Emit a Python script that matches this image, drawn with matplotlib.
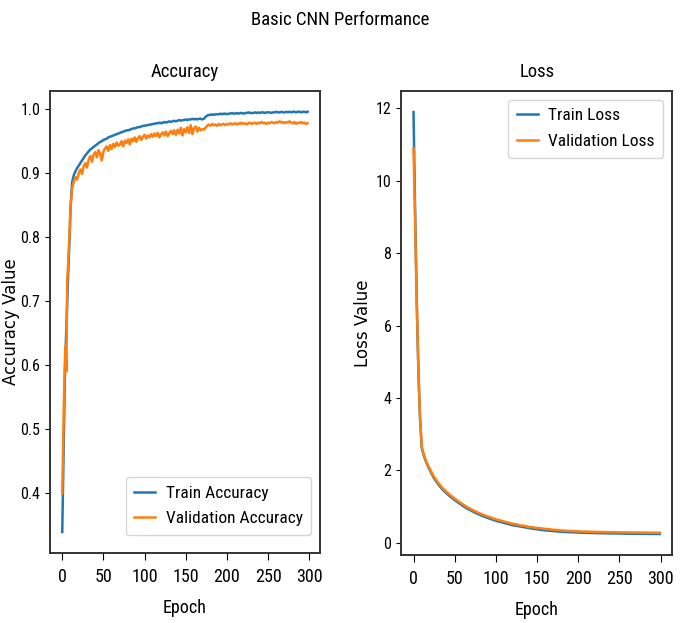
import matplotlib
matplotlib.use('Agg')
import matplotlib.pyplot as plt
import numpy as np

# epochs for the accuracy curves: every epoch up to 10, then every 2nd
acc_epochs = np.concatenate([np.arange(0, 11), np.arange(12, 300, 2)])

train_acc = [
    0.34, 0.42, 0.50, 0.57, 0.62, 0.66, 0.70, 0.735, 0.77, 0.80, 0.845,
    0.885, 0.896, 0.902, 0.907, 0.911, 0.915, 0.919, 0.923, 0.927, 0.930,
    0.933, 0.936, 0.938, 0.940, 0.942, 0.944, 0.946, 0.948, 0.949, 0.951,
    0.952, 0.953, 0.955, 0.956, 0.957, 0.958, 0.959, 0.960, 0.961, 0.962,
    0.963, 0.964, 0.965, 0.966, 0.966, 0.967, 0.968, 0.969, 0.969, 0.970,
    0.971, 0.971, 0.972, 0.973, 0.973, 0.974, 0.974, 0.975, 0.975, 0.976,
    0.976, 0.977, 0.977, 0.978, 0.977, 0.978, 0.979, 0.978, 0.979, 0.980,
    0.979, 0.980, 0.981, 0.980, 0.981, 0.982, 0.981, 0.982, 0.982, 0.983,
    0.982, 0.983, 0.983, 0.984, 0.983, 0.984, 0.983, 0.984, 0.984, 0.983,
    0.984, 0.987, 0.989, 0.990, 0.990, 0.991, 0.990, 0.991, 0.991, 0.991,
    0.992, 0.991, 0.992, 0.992, 0.991, 0.992, 0.992, 0.993, 0.992, 0.992,
    0.993, 0.992, 0.993, 0.993, 0.992, 0.993, 0.993, 0.994, 0.993, 0.993,
    0.993, 0.994, 0.993, 0.994, 0.993, 0.994, 0.994, 0.993, 0.994, 0.994,
    0.994, 0.993, 0.994, 0.994, 0.995, 0.994, 0.994, 0.995, 0.994, 0.994,
    0.995, 0.994, 0.995, 0.994, 0.995, 0.995, 0.994, 0.995, 0.995, 0.994,
    0.995, 0.995, 0.994, 0.995,
]

val_acc = [
    0.40, 0.47, 0.54, 0.60, 0.63, 0.59, 0.73, 0.755, 0.78, 0.81, 0.845,
    0.876, 0.886, 0.893, 0.889, 0.899, 0.905, 0.898, 0.910, 0.915, 0.908,
    0.920, 0.926, 0.917, 0.928, 0.932, 0.924, 0.935, 0.930, 0.919, 0.933,
    0.938, 0.941, 0.934, 0.943, 0.937, 0.945, 0.940, 0.947, 0.942, 0.944,
    0.949, 0.941, 0.950, 0.946, 0.952, 0.944, 0.953, 0.949, 0.955, 0.948,
    0.954, 0.957, 0.951, 0.956, 0.959, 0.953, 0.958, 0.955, 0.960, 0.956,
    0.961, 0.957, 0.962, 0.955, 0.960, 0.963, 0.958, 0.964, 0.957, 0.962,
    0.965, 0.960, 0.966, 0.959, 0.967, 0.961, 0.970, 0.958, 0.968, 0.963,
    0.971, 0.962, 0.974, 0.960, 0.969, 0.972, 0.964, 0.970, 0.966, 0.968,
    0.967, 0.970, 0.973, 0.975, 0.973, 0.976, 0.974, 0.975, 0.973, 0.976,
    0.974, 0.975, 0.976, 0.974, 0.976, 0.975, 0.977, 0.975, 0.976, 0.977,
    0.975, 0.977, 0.976, 0.978, 0.976, 0.977, 0.975, 0.977, 0.978, 0.976,
    0.977, 0.978, 0.976, 0.978, 0.977, 0.979, 0.977, 0.978, 0.976, 0.978,
    0.977, 0.979, 0.978, 0.977, 0.979, 0.978, 0.980, 0.978, 0.979, 0.977,
    0.979, 0.978, 0.980, 0.978, 0.977, 0.979, 0.976, 0.978, 0.977, 0.979,
    0.977, 0.978, 0.976, 0.977,
]

# epochs for the loss curves
loss_epochs = np.concatenate([np.arange(0, 11), [12, 14, 17, 20], np.arange(25, 300, 5), [299]])

train_loss = [
    11.9, 10.5, 9.1, 7.8, 6.6, 5.6, 4.7, 4.0, 3.4, 3.0, 2.62,
    2.45, 2.31, 2.14, 2.00, 1.78,
    1.62, 1.48, 1.37, 1.27, 1.18, 1.10, 1.02,
    0.95, 0.89, 0.83, 0.78, 0.73, 0.69, 0.65, 0.61, 0.58, 0.55,
    0.52, 0.49, 0.47, 0.45, 0.43, 0.41, 0.39, 0.375, 0.36, 0.345,
    0.335, 0.325, 0.315, 0.305, 0.30, 0.295, 0.29, 0.285, 0.28, 0.277,
    0.274, 0.271, 0.268, 0.266, 0.264, 0.262, 0.26, 0.258, 0.256, 0.254,
    0.252, 0.251, 0.25, 0.249, 0.248, 0.247, 0.246, 0.245,
]

val_loss = [
    10.9, 9.9, 8.8, 7.7, 6.6, 5.65, 4.75, 4.05, 3.45, 3.05, 2.66,
    2.48, 2.34, 2.17, 2.03, 1.82,
    1.66, 1.52, 1.41, 1.31, 1.22, 1.14, 1.06,
    0.99, 0.93, 0.87, 0.82, 0.77, 0.73, 0.69, 0.65, 0.62, 0.59,
    0.56, 0.53, 0.51, 0.48, 0.47, 0.44, 0.43, 0.41, 0.40, 0.385,
    0.375, 0.36, 0.355, 0.34, 0.335, 0.33, 0.322, 0.318, 0.312, 0.31,
    0.306, 0.303, 0.30, 0.298, 0.296, 0.294, 0.292, 0.29, 0.289, 0.287,
    0.286, 0.285, 0.284, 0.283, 0.282, 0.281, 0.28, 0.28,
]

narrow = ['Roboto Condensed', 'Liberation Sans Narrow', 'Liberation Sans', 'DejaVu Sans']
plt.rcParams['font.family'] = narrow

fig = plt.figure(figsize=(6.8, 6.23), dpi=100)
ax1 = fig.add_axes([0.0735, 0.1124, 0.397, 0.742])
ax2 = fig.add_axes([0.590, 0.109, 0.3985, 0.745])

fig.suptitle('Basic CNN Performance', y=0.983, fontsize=13.5)

ax1.plot(acc_epochs, train_acc, label='Train Accuracy', lw=1.8)
ax1.plot(acc_epochs, val_acc, label='Validation Accuracy', lw=1.8)
ax1.set_title('Accuracy', fontsize=13.5, pad=10)
ax1.set_ylabel('Accuracy Value', fontsize=12, family='DejaVu Sans', labelpad=0)
ax1.set_xlabel('Epoch', fontsize=13, labelpad=9)
ax1.set_xticks(np.arange(0, 301, 50))
ax1.legend(loc='lower right', fontsize=12.5, handlelength=1.2, handletextpad=0.6,
           borderpad=0.5, labelspacing=0.6, bbox_to_anchor=(1.0, 0.02))

ax2.plot(loss_epochs, train_loss, label='Train Loss', lw=1.8)
ax2.plot(loss_epochs, val_loss, label='Validation Loss', lw=1.8)
ax2.set_title('Loss', fontsize=13.5, pad=10)
ax2.set_ylabel('Loss Value', fontsize=12, family='DejaVu Sans', labelpad=3)
ax2.set_xlabel('Epoch', fontsize=13, labelpad=9)
ax2.set_xticks(np.arange(0, 301, 50))
ax2.legend(loc='upper right', fontsize=12.5, handlelength=1.2, handletextpad=0.6,
           borderpad=0.5, labelspacing=0.6)

for ax in (ax1, ax2):
    ax.tick_params(axis='y', labelsize=11.5)
    ax.tick_params(axis='x', labelsize=13, length=5, pad=6)
    for sp in ax.spines.values():
        sp.set_linewidth(1.4)
        sp.set_color('#333333')

fig.savefig('out.png', dpi=100)
